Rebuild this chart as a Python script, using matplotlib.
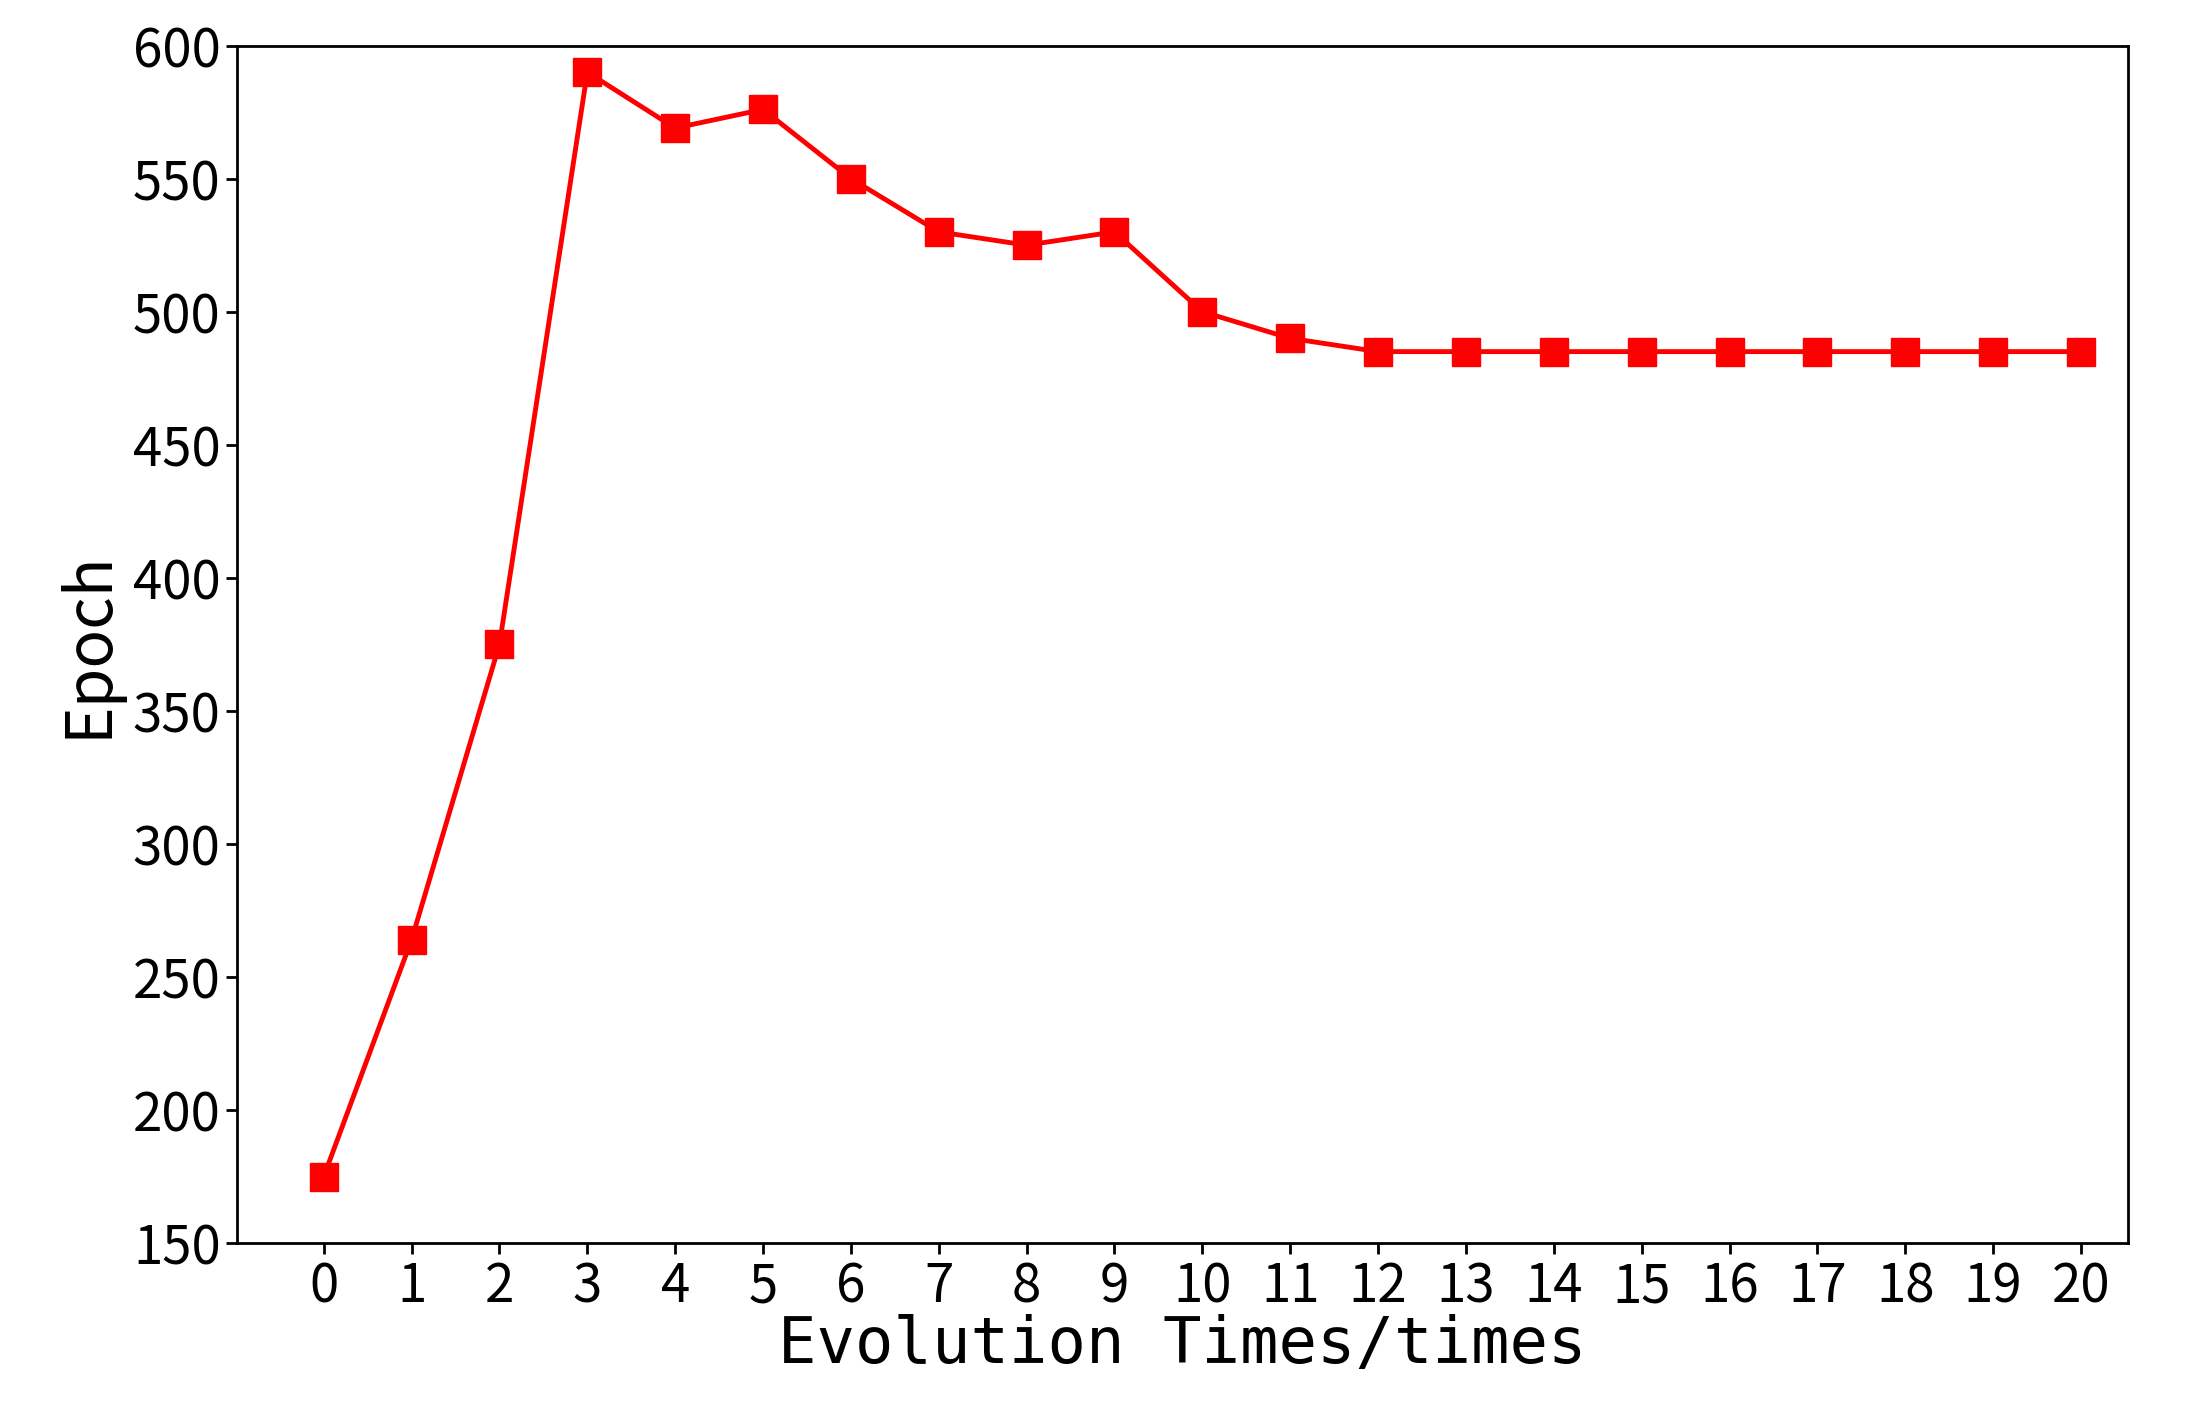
import matplotlib
matplotlib.use("Agg")
import matplotlib.pyplot as plt

plt.rcParams['font.family'] = ['Noto Sans CJK SC', 'DejaVu Sans']

evolution = list(range(21))
epochs = [175, 264, 375, 590, 569, 576, 550, 530, 525, 530, 500, 490,
          485, 485, 485, 485, 485, 485, 485, 485, 485]

fig = plt.figure(figsize=(21.92, 14.24), dpi=100)
ax = fig.add_axes([0.108, 0.127, 0.863, 0.841])
ax.plot(evolution, epochs, color='red', marker='s', markersize=20, linewidth=3.5)
ax.set_ylim(150, 600)
ax.set_xlim(-0.99, 20.54)
ax.set_xticks(evolution)
ax.tick_params(labelsize=38, width=2, length=8)
for s in ax.spines.values():
    s.set_linewidth(2)
ax.set_xlabel("Evolution Times/times", fontsize=46, family=['DejaVu Sans Mono'], labelpad=0)
ax.set_ylabel("Epoch", fontsize=46, labelpad=8)
fig.savefig("out.png", dpi=100)
